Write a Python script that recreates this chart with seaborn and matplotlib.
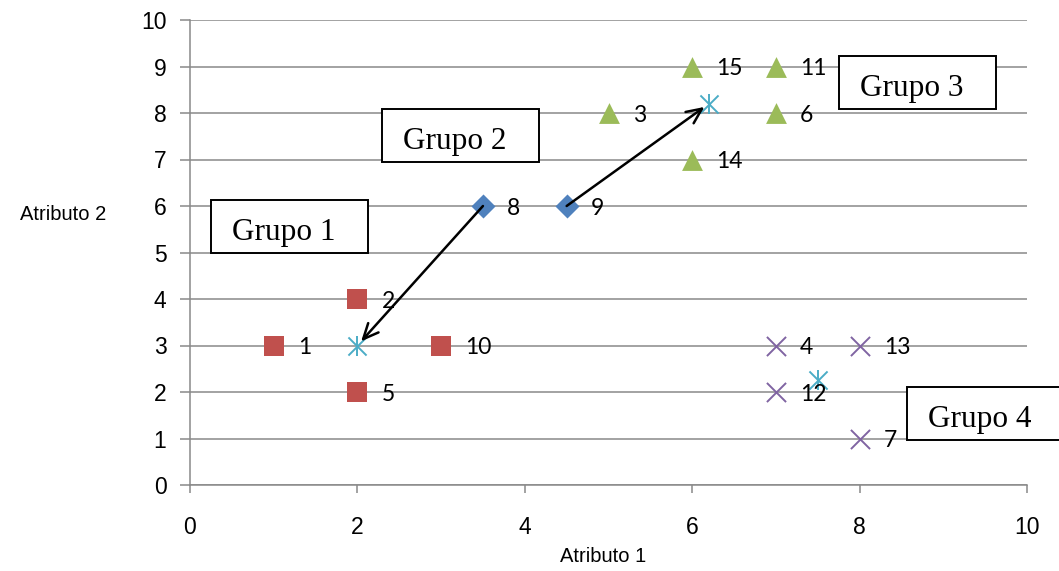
import matplotlib
matplotlib.use("Agg")
import matplotlib.pyplot as plt
from matplotlib.patches import Rectangle
import seaborn as sns
import pandas as pd

# ---- data ----
g1_x = [1, 2, 2, 3]
g1_y = [3, 4, 2, 3]
g1_id = ["1", "2", "5", "10"]

g2_x = [3.5, 4.5]
g2_y = [6, 6]
g2_id = ["8", "9"]

g3_x = [5, 6, 7, 7, 6]
g3_y = [8, 9, 9, 8, 7]
g3_id = ["3", "15", "11", "6", "14"]

g4_x = [7, 8, 7, 8]
g4_y = [3, 3, 2, 1]
g4_id = ["4", "13", "12", "7"]

cent_x = [2, 6.2, 7.5]
cent_y = [3, 8.2, 2.25]

group_names = ["Grupo 1", "Grupo 2", "Grupo 3", "Grupo 4"]
x_ticks = [0, 2, 4, 6, 8, 10]
y_ticks = list(range(0, 11))
x_label = "Atributo 1"
y_label = "Atributo 2"

# ---- style ----
sns.set_style("white")
plt.rcParams["font.family"] = ["Liberation Sans", "DejaVu Sans"]
plt.rcParams["text.color"] = "black"
plt.rcParams["xtick.color"] = "black"
plt.rcParams["ytick.color"] = "black"

RED = "#C0504D"
BLUE = "#4F81BD"
GREEN = "#9BBB59"
PURPLE = "#8064A2"
CYAN = "#4BACC6"
GRID = "#898989"

W, H = 1059, 571
fig = plt.figure(figsize=(W / 100, H / 100), dpi=100)
ax = fig.add_axes([190 / W, 86 / H, 837 / W, 465 / H])

ax.set_xlim(0, 10)
ax.set_ylim(0, 10)
ax.set_xticks(x_ticks)
ax.set_yticks(y_ticks)
ax.yaxis.grid(True, color=GRID, linewidth=1.1, zorder=0)
ax.xaxis.grid(False)
ax.set_axisbelow(True)
for s in ["top", "right"]:
    ax.spines[s].set_visible(False)
for s in ["left", "bottom"]:
    ax.spines[s].set_color(GRID)
    ax.spines[s].set_linewidth(1.1)
ax.tick_params(axis="y", length=7, width=1.1, color=GRID, labelcolor="black", pad=10, labelsize=16.5, direction="out", left=True)
ax.tick_params(axis="x", length=6, width=1.1, color=GRID, labelcolor="black", pad=16, labelsize=16.5, direction="out", bottom=True)

# ---- points ----
df1 = pd.DataFrame({"x": g1_x, "y": g1_y})
df2 = pd.DataFrame({"x": g2_x, "y": g2_y})
df3 = pd.DataFrame({"x": g3_x, "y": g3_y})
df4 = pd.DataFrame({"x": g4_x, "y": g4_y})
dfc = pd.DataFrame({"x": cent_x, "y": cent_y})

sns.scatterplot(data=df1, x="x", y="y", marker="s", s=190, color=RED, edgecolor=RED, linewidth=0, ax=ax, zorder=4, legend=False)
sns.scatterplot(data=df2, x="x", y="y", marker="D", s=150, color=BLUE, edgecolor=BLUE, linewidth=0, ax=ax, zorder=4, legend=False)
sns.scatterplot(data=df3, x="x", y="y", marker="^", s=225, color=GREEN, edgecolor=GREEN, linewidth=0, ax=ax, zorder=4, legend=False)
sns.scatterplot(data=df4, x="x", y="y", marker="x", s=190, color=PURPLE, linewidth=1.4, ax=ax, zorder=4, legend=False)
sns.scatterplot(data=dfc, x="x", y="y", marker="x", s=170, color=CYAN, linewidth=1.4, ax=ax, zorder=4, legend=False)
sns.scatterplot(data=dfc, x="x", y="y", marker="|", s=210, color=CYAN, linewidth=1.4, ax=ax, zorder=4, legend=False)

ax.set_xlabel("")
ax.set_ylabel("")

# ---- point labels ----
lab_font = dict(family=["Lato", "DejaVu Sans"], size=16.5, color="black")
for xs, ys, ids in [(g1_x, g1_y, g1_id), (g2_x, g2_y, g2_id), (g3_x, g3_y, g3_id), (g4_x, g4_y, g4_id)]:
    for xv, yv, t in zip(xs, ys, ids):
        ax.annotate(t, (xv, yv), xytext=(17.5, -1.5), textcoords="offset points",
                    ha="left", va="center", zorder=6, **lab_font)

# ---- arrows ----
arrow_kw = dict(arrowstyle="->,head_length=1.1,head_width=0.5", color="black", lw=1.8,
                shrinkA=0, shrinkB=4)
ax.annotate("", xy=(cent_x[0], cent_y[0]), xytext=(g2_x[0], g2_y[0]),
            arrowprops=arrow_kw, zorder=7)
ax.annotate("", xy=(cent_x[1], cent_y[1]), xytext=(g2_x[1], g2_y[1]),
            arrowprops=arrow_kw, zorder=7)

# ---- group boxes ----
box_pos = [(0.251, 4.989), (2.294, 6.946), (7.754, 8.086), (8.566, 0.968)]
box_w, box_h = 1.876, 1.13
for (bx, by), name in zip(box_pos, group_names):
    ax.add_patch(Rectangle((bx, by), box_w, box_h, facecolor="white", edgecolor="black",
                           linewidth=1.4, clip_on=False, zorder=3))
    ax.text(bx + 0.25, by + 0.28, name, ha="left", va="baseline",
            family=["Liberation Serif", "DejaVu Serif"], size=22.5, zorder=8, clip_on=False)

# ---- axis titles ----
fig.text(63 / W, 1 - 214 / H, y_label, ha="center", va="center", size=14.5)
fig.text(603 / W, 1 - 557 / H, x_label, ha="center", va="center", size=14.5)

fig.savefig("out.png", dpi=100)
